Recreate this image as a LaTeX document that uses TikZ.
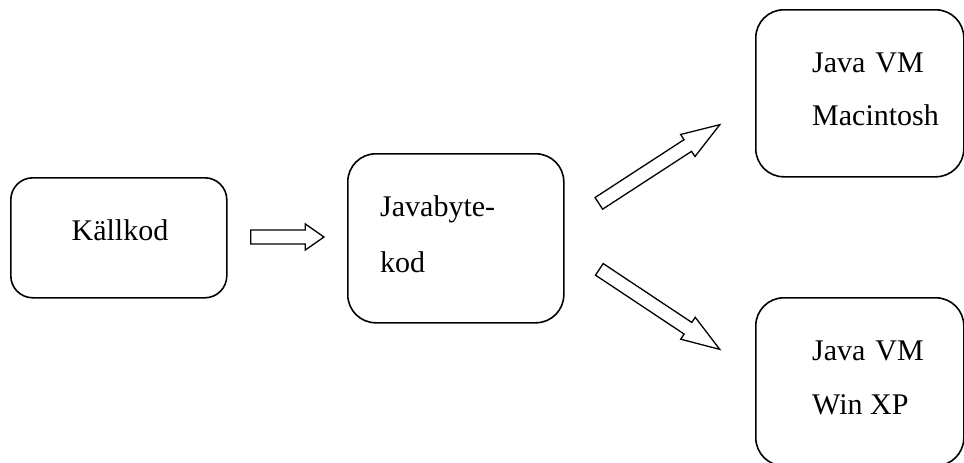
\documentclass[tikz,border=0pt]{standalone}
\usepackage{fontspec}
\setmainfont{Liberation Serif}
\usetikzlibrary{shapes.arrows}
\begin{document}
\begin{tikzpicture}[x=1pt,y=1pt,
  box/.style={draw, line width=1.6pt, inner sep=0pt, anchor=north west},
  lbl/.style={font=\fontsize{30}{36}\selectfont, inner sep=0pt, anchor=base west},
  blockarrow/.style={draw, line width=1.3pt, single arrow, inner sep=0pt,
    inner ysep=6.3pt, single arrow head extend=6.2pt, minimum width=0pt, anchor=tail}]
\fill[white] (0,0) rectangle (964,-463);
\useasboundingbox (0,0) rectangle (964,-463);
% boxes
\node[box, rounded corners=22pt, minimum width=216pt, minimum height=120pt] (kall) at (10,-177) {};
\node[box, rounded corners=28pt, minimum width=216pt, minimum height=169pt] (byte) at (347,-153) {};
\node[box, rounded corners=28pt, minimum width=208pt, minimum height=167pt] (mac) at (755,-9) {};
\node[box, rounded corners=28pt, minimum width=208pt, minimum height=168pt] (win) at (755,-297) {};
% texts
\node[lbl, anchor=base] (t1) at (120,-240) {Källkod};
\node[lbl] (t2) at (380,-216) {Javabyte-};
\node[lbl] (t3) at (380,-272) {kod};
\node[lbl] (t4) at (812,-72) {Java\hspace{0.33em}VM};
\node[lbl] (t5) at (812,-125) {Macintosh};
\node[lbl] (t6) at (812,-360) {Java\hspace{0.33em}VM};
\node[lbl] (t7) at (812,-414) {Win XP};
% block arrows
\node[blockarrow, minimum height=73.3pt, single arrow tip angle=70] (a1) at (250,-237) {};
\node[blockarrow, minimum height=144.3pt, single arrow tip angle=38, rotate=33.04] (a2) at (598.3,-203.7) {};
\node[blockarrow, minimum height=144.6pt, single arrow tip angle=38, rotate=-33.6] (a3) at (598.8,-269) {};
\end{tikzpicture}
\end{document}
